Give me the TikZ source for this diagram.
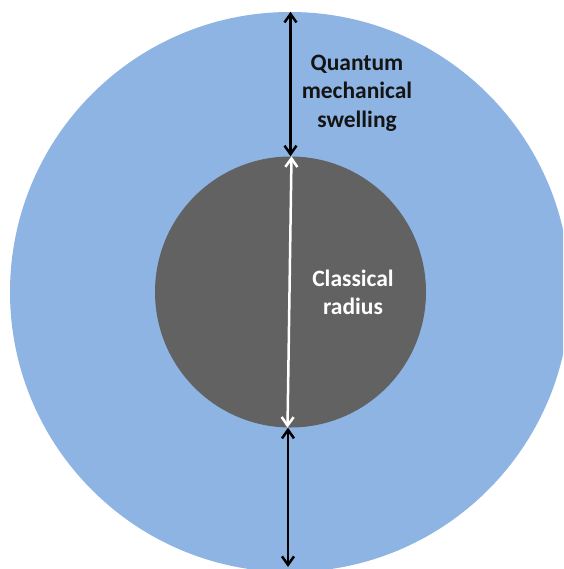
\documentclass[tikz,border=0pt]{standalone}
\usepackage{fontspec}
\setmainfont{Carlito}
\usetikzlibrary{arrows.meta}
\definecolor{outerblue}{RGB}{142,180,227}
\definecolor{innergrey}{RGB}{98,98,98}
\definecolor{textblack}{RGB}{20,20,20}
\begin{document}
\begin{tikzpicture}[x=1pt,y=-1pt,
  dimarrow/.style={line width=2.5pt,{Straight Barb[length=8.5pt,width=12pt]}-{Straight Barb[length=8.5pt,width=12pt]}},
  lbl/.style={font=\bfseries\fontsize{23.5}{28.5}\selectfont, align=center, inner sep=0pt},
  disc/.style={circle, inner sep=0pt, draw=none}]
\useasboundingbox (0,0) rectangle (563,569);
\clip (0,0) rectangle (563,569);
\node[disc, fill=outerblue, minimum size=560pt] (outer) at (290,292) {};
\node[disc, fill=innergrey, minimum size=271pt] (inner) at (290.5,292) {};
\coordinate (bottomend) at (288,567);
\draw[dimarrow, black] ([xshift=0.5pt]outer.north) -- (inner.north);
\draw[dimarrow, white] ([xshift=1pt]inner.north) -- ([xshift=-3pt]inner.south);
\draw[dimarrow, black] ([xshift=-2.5pt]inner.south) -- (bottomend);
\node[lbl, text=textblack] (qlabel) at (357,93) {Quantum\\mechanical\\swelling};
\node[lbl, text=white] (clabel) at (353,292.5) {Classical\\radius};
\end{tikzpicture}
\end{document}
